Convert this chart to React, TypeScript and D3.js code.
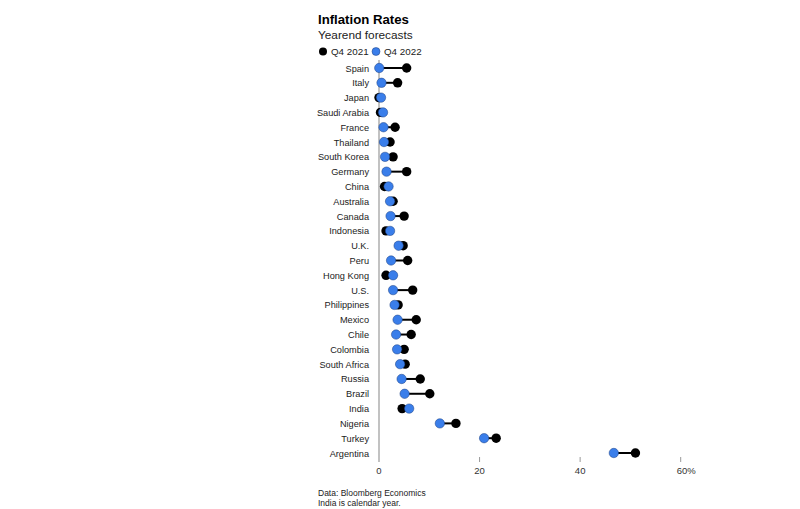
import React from "react";
import * as d3 from "d3";

const countries = ["Spain","Italy","Japan","Saudi Arabia","France","Thailand","South Korea","Germany","China","Australia","Canada","Indonesia","U.K.","Peru","Hong Kong","U.S.","Philippines","Mexico","Chile","Colombia","South Africa","Russia","Brazil","India","Nigeria","Turkey","Argentina"];
const q4_2021 = [5.5,3.7,0,0.3,3.2,2.2,2.8,5.5,1.1,2.8,5.0,1.4,4.8,5.7,1.4,6.7,3.8,7.4,6.4,5.0,5.2,8.2,10.1,4.6,15.3,23.3,51.0];
const q4_2022 = [0.05,0.5,0.4,0.8,0.9,1.0,1.2,1.5,1.9,2.2,2.3,2.2,3.9,2.4,2.8,2.8,3.1,3.7,3.4,3.6,4.2,4.5,5.1,6.0,12.1,20.9,46.7];
const xTicks = [0,20,40,60];

const BLUE = "#3a7eea";
const FONT = "'Liberation Sans', Arial, Helvetica, sans-serif";

export default function App() {
  const W = 800, H = 509;
  const x = d3.scaleLinear().domain([0, 60]).range([379, 680.7]);
  const y = d3.scalePoint<string>().domain(countries).range([68, 453]).padding(0);
  const r = 4.7;
  return (
    <svg width={W} height={H} style={{ position: "absolute", left: 0, top: 0, background: "#fff" }} fontFamily={FONT}>
      <text x={318} y={24} fontSize={13.2} fontWeight="bold" fill="#000">Inflation Rates</text>
      <text x={318} y={39} fontSize={11.8} fill="#222">Yearend forecasts</text>
      <circle cx={323} cy={51.5} r={4} fill="#000" />
      <text x={331} y={55} fontSize={9.8} fill="#222">Q4 2021</text>
      <circle cx={376} cy={51.5} r={4} fill={BLUE} stroke="#1b3f80" strokeWidth={0.5} />
      <text x={384} y={55} fontSize={9.8} fill="#222">Q4 2022</text>
      <line x1={x(0)} x2={x(0)} y1={60} y2={462} stroke="#999" strokeWidth={1.2} />
      {xTicks.map((t) => (
        <g key={t}>
          {t !== 0 && <line x1={x(t)} x2={x(t)} y1={457} y2={462} stroke="#999" strokeWidth={1} />}
          <text x={x(t)} y={474} fontSize={9.5} fill="#333" textAnchor={t === 60 ? "start" : "middle"} dx={t === 60 ? -4 : 0}>{t === 60 ? "60%" : t}</text>
        </g>
      ))}
      {countries.map((c, i) => {
        const yy = y(c) as number;
        return (
          <g key={c}>
            <text x={369} y={yy + 3.5} fontSize={9.2} fill="#222" textAnchor="end">{c}</text>
            <line x1={x(q4_2021[i])} x2={x(q4_2022[i])} y1={yy} y2={yy} stroke="#000" strokeWidth={2} />
            <circle cx={x(q4_2021[i])} cy={yy} r={r} fill="#000" />
            <circle cx={x(q4_2022[i])} cy={yy} r={r} fill={BLUE} stroke="#1b3f80" strokeWidth={0.5} />
          </g>
        );
      })}
      <text x={318} y={496} fontSize={8.5} fill="#222">Data: Bloomberg Economics</text>
      <text x={318} y={506} fontSize={8.5} fill="#222">India is calendar year.</text>
    </svg>
  );
}
